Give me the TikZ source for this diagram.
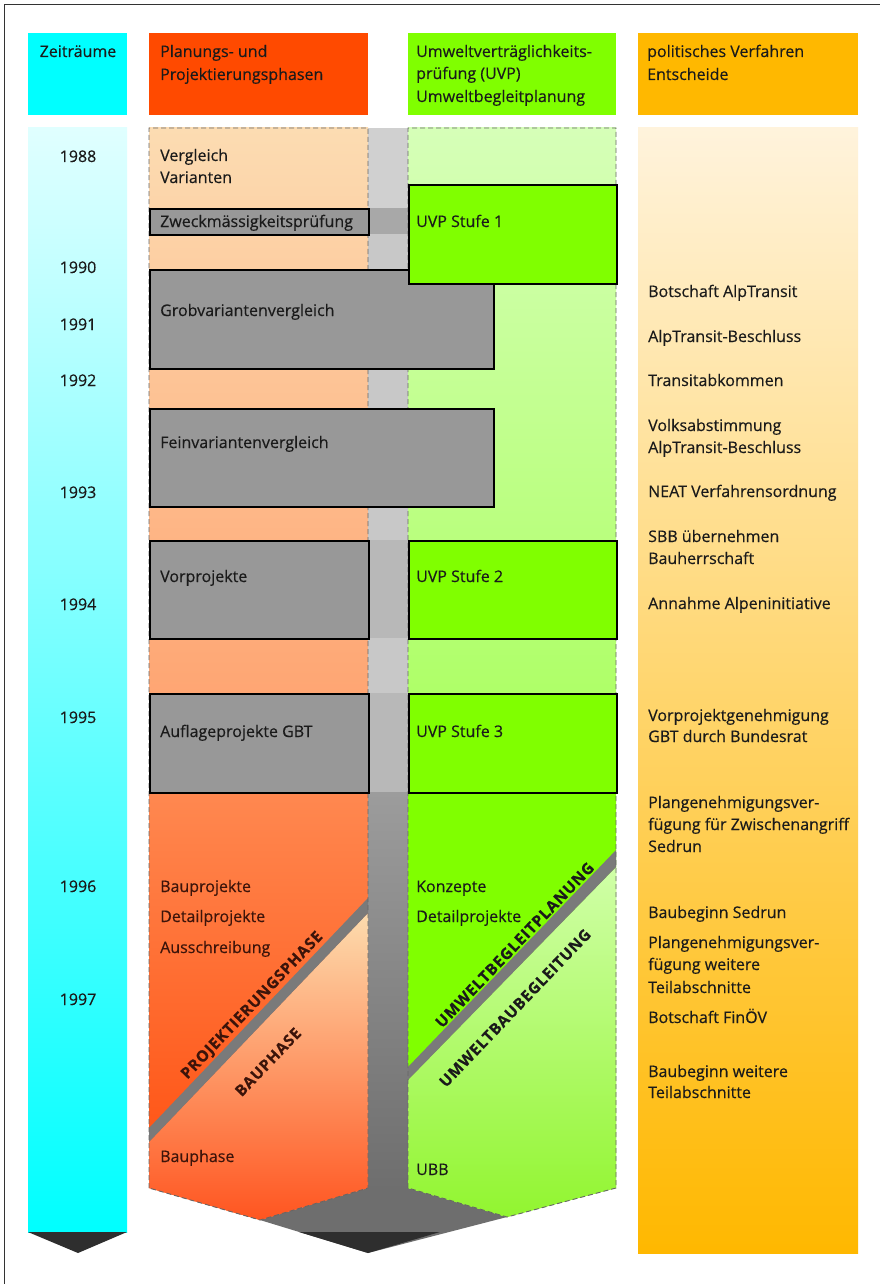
\documentclass[tikz,border=0pt]{standalone}
\usepackage{fontspec}
\setmainfont{Open Sans}[FakeBold=0.35]
\usetikzlibrary{calc}
\definecolor{cyanhead}{HTML}{00FFFF}
\definecolor{cyantop}{HTML}{E0FFFF}
\definecolor{orhead}{HTML}{FF4A00}
\definecolor{grhead}{HTML}{80FF00}
\definecolor{yehead}{HTML}{FFB800}
\definecolor{yetop}{HTML}{FFF3DC}
\definecolor{boxgray}{HTML}{989898}
\definecolor{ortop}{HTML}{FCDCB2}
\definecolor{ormid}{HTML}{FF9C68}
\definecolor{orlowtop}{HTML}{FF8850}
\definecolor{orlowbot}{HTML}{FF4A0A}
\definecolor{peachtop}{HTML}{FDDCAE}
\definecolor{peachbot}{HTML}{FF5520}
\definecolor{grtop}{HTML}{D6FFB8}
\definecolor{grmid}{HTML}{A8FF5A}
\definecolor{ltgrtop}{HTML}{D0FFA8}
\definecolor{ltgrbot}{HTML}{92F530}
\definecolor{stripA}{HTML}{C8C8C8}
\definecolor{stripT}{HTML}{D0D0D0}
\definecolor{stripB}{HTML}{A8A8A8}
\definecolor{stripC}{HTML}{B8B8B8}
\definecolor{stripD}{HTML}{9C9C9C}
\definecolor{stripE}{HTML}{6E6E6E}
\definecolor{darkarrow}{HTML}{2E2E2E}
\definecolor{bandgray}{HTML}{7A7A7A}
\definecolor{txtdark}{HTML}{1A1A1A}
\definecolor{txtbrown}{HTML}{3C140A}
\begin{document}
\begin{tikzpicture}[x=1pt,y=-1pt,
  txt/.style={anchor=base west, inner sep=0pt, font=\fontsize{16}{22}\selectfont, text=txtdark},
  yr/.style={anchor=base, inner sep=0pt, font=\fontsize{16}{22}\selectfont, text=txtdark},
  hdr/.style={anchor=north west, inner sep=0pt},
  graybox/.style={draw=black, line width=2.2pt, fill=boxgray, anchor=north west, inner sep=0pt},
  greenbox/.style={draw=black, line width=2.2pt, fill=grhead, anchor=north west, inner sep=0pt},
  dashedge/.style={draw=black!60, dash pattern=on 5pt off 3pt, line width=0.9pt},
  diag/.style={font=\fontsize{15.5}{18}\selectfont\bfseries\addfontfeatures{LetterSpace=5}, inner sep=1.5pt, rotate=46.3, text=txtdark},
]
\useasboundingbox (0,0) rectangle (880,1284);
\fill[white] (0,0) rectangle (880,1284);
\draw[black!80, line width=1pt] (4.5,1284) -- (4.5,4.5) -- (880,4.5);

% ---------- headers
\node[hdr, fill=cyanhead, minimum width=99pt, minimum height=82pt] (hZ) at (28,33) {};
\node[yr] (hZt) at (78,57) {Zeiträume};
\node[hdr, fill=orhead, minimum width=219pt, minimum height=82pt] (hP) at (149,33) {};
\node[txt] (hPt1) at (160,57) {Planungs- und};
\node[txt] (hPt2) at (160,80) {Projektierungsphasen};
\node[hdr, fill=grhead, minimum width=208pt, minimum height=82pt] (hU) at (408,33) {};
\node[txt] (hUt1) at (416,57) {Umweltverträglichkeits-};
\node[txt] (hUt2) at (416,79) {prüfung (UVP)};
\node[txt] (hUt3) at (416,102) {Umweltbegleitplanung};
\node[hdr, fill=yehead, minimum width=220pt, minimum height=82pt] (hV) at (638,33) {};
\node[txt] (hVt1) at (647,57) {politisches Verfahren};
\node[txt] (hVt2) at (647,80) {Entscheide};

% ---------- time column
\shade[top color=cyantop, bottom color=cyanhead] (28,128) rectangle (127,1232);
\fill[darkarrow] (28,1232) -- (127,1232) -- (78,1253) -- cycle;

% ---------- political column
\shade[top color=yetop, bottom color=yehead] (638,128) rectangle (858,1253);

% ---------- upper backgrounds
\shade[top color=ortop, bottom color=ormid] (149,128) rectangle (368,792);
\shade[top color=grtop, bottom color=grmid] (408,128) rectangle (616,792);
\fill[stripA] (368,128) rectangle (408,792);
\fill[stripT] (368,128) rectangle (408,208);
\fill[stripB] (368,208) rectangle (408,234);
\fill[stripC] (368,540) rectangle (408,638);
\fill[stripC] (368,693) rectangle (408,792);

% ---------- central strip lower part and arrow
\shade[top color=stripD, bottom color=stripE] (368,792) rectangle (408,1190);
\fill[stripE] (260,1220) -- (368,1188) -- (408,1188) -- (507,1217) -- (368,1253) -- cycle;
\fill[darkarrow] (299,1232) -- (368,1253) -- (440,1232) -- cycle;

% ---------- lower orange part
\shade[top color=orlowtop, bottom color=orlowbot] (149,792) -- (368,792) -- (368,1188) -- (260,1220) -- (149,1188) -- cycle;
\shade[top color=peachtop, bottom color=peachbot] (149,1142) -- (368,913) -- (368,1188) -- (260,1220) -- (149,1188) -- cycle;
\fill[bandgray] (149,1128) -- (368,898) -- (368,913) -- (149,1142) -- cycle;

% ---------- lower green part
\fill[grhead] (408,792) -- (616,792) -- (616,1188) -- (507,1217) -- (408,1188) -- cycle;
\shade[top color=ltgrtop, bottom color=ltgrbot] (408,1080) -- (616,867) -- (616,1188) -- (507,1217) -- (408,1188) -- cycle;
\fill[bandgray] (408,1067) -- (616,850) -- (616,867) -- (408,1080) -- cycle;

% ---------- dashed column outlines
\draw[dashedge] (149,1188) -- (149,128) -- (368,128) -- (368,1188) -- (260,1220) -- cycle;
\draw[dashedge] (408,1188) -- (408,128) -- (616,128) -- (616,1188) -- (507,1217) -- cycle;

% ---------- boxes
\node[graybox, minimum width=219pt, minimum height=26pt] (zweck) at (149,208) {};
\node[graybox, minimum width=344pt, minimum height=99pt] (grob) at (149,269) {};
\node[greenbox, minimum width=208pt, minimum height=99pt] (uvp1) at (408,184) {};
\node[graybox, minimum width=344pt, minimum height=98pt] (fein) at (149,408) {};
\node[graybox, minimum width=219pt, minimum height=98pt] (vorp) at (149,540) {};
\node[greenbox, minimum width=208pt, minimum height=98pt] (uvp2) at (408,540) {};
\node[graybox, minimum width=219pt, minimum height=99pt] (aufl) at (149,693) {};
\node[greenbox, minimum width=208pt, minimum height=99pt] (uvp3) at (408,693) {};

% ---------- years
\node[yr] (y88) at (78,162) {1988};
\node[yr] (y90) at (78,273) {1990};
\node[yr] (y91) at (78,330) {1991};
\node[yr] (y92) at (78,386) {1992};
\node[yr] (y93) at (78,498) {1993};
\node[yr] (y94) at (78,610) {1994};
\node[yr] (y95) at (78,723) {1995};
\node[yr] (y96) at (78,892) {1996};
\node[yr] (y97) at (78,1005) {1997};

% ---------- planning column texts
\node[txt] (p1) at (160,161) {Vergleich};
\node[txt] (p2) at (160,183) {Varianten};
\node[txt] (p3) at (160,227) {Zweckmässigkeitsprüfung};
\node[txt] (p4) at (160,316) {Grobvariantenvergleich};
\node[txt] (p5) at (160,448) {Feinvariantenvergleich};
\node[txt] (p6) at (160,582) {Vorprojekte};
\node[txt] (p7) at (160,737) {Auflageprojekte GBT};
\node[txt, text=txtbrown] (p8) at (160,892) {Bauprojekte};
\node[txt, text=txtbrown] (p9) at (160,922) {Detailprojekte};
\node[txt, text=txtbrown] (p10) at (160,953) {Ausschreibung};
\node[txt, text=txtbrown] (p11) at (160,1162) {Bauphase};

% ---------- UVP column texts
\node[txt] (u1) at (416,227) {UVP Stufe 1};
\node[txt] (u2) at (416,582) {UVP Stufe 2};
\node[txt] (u3) at (416,737) {UVP Stufe 3};
\node[txt] (u4) at (416,892) {Konzepte};
\node[txt] (u5) at (416,922) {Detailprojekte};
\node[txt] (u6) at (416,1175) {UBB};

% ---------- diagonal labels
\node[diag, anchor=south, text=txtbrown] (dPro) at (259,1012) {PROJEKTIERUNGSPHASE};
\node[diag, text=txtbrown] (dBau) at (268,1062) {BAUPHASE};
\node[diag, anchor=south] (dUbp) at (520,950) {UMWELTBEGLEITPLANUNG};
\node[diag] (dUbb) at (515,1008) {UMWELTBAUBEGLEITUNG};

% ---------- political texts
\node[txt] (v1) at (648,297) {Botschaft AlpTransit};
\node[txt] (v2) at (648,342) {AlpTransit-Beschluss};
\node[txt] (v3) at (648,386) {Transitabkommen};
\node[txt] (v4) at (648,431) {Volksabstimmung};
\node[txt] (v5) at (648,453) {AlpTransit-Beschluss};
\node[txt] (v6) at (648,497) {NEAT Verfahrensordnung};
\node[txt] (v7) at (648,542) {SBB übernehmen};
\node[txt] (v8) at (648,564) {Bauherrschaft};
\node[txt] (v9) at (648,609) {Annahme Alpeninitiative};
\node[txt] (v10) at (648,721) {Vorprojektgenehmigung};
\node[txt] (v11) at (648,742) {GBT durch Bundesrat};
\node[txt] (v12) at (648,808) {Plangenehmigungsver-};
\node[txt] (v13) at (648,830) {fügung für Zwischenangriff};
\node[txt] (v14) at (648,852) {Sedrun};
\node[txt] (v15) at (648,918) {Baubeginn Sedrun};
\node[txt] (v16) at (648,948) {Plangenehmigungsver-};
\node[txt] (v17) at (648,970) {fügung weitere};
\node[txt] (v18) at (648,993) {Teilabschnitte};
\node[txt] (v19) at (648,1023) {Botschaft FinÖV};
\node[txt] (v20) at (648,1077) {Baubeginn weitere};
\node[txt] (v21) at (648,1098) {Teilabschnitte};
\end{tikzpicture}
\end{document}
